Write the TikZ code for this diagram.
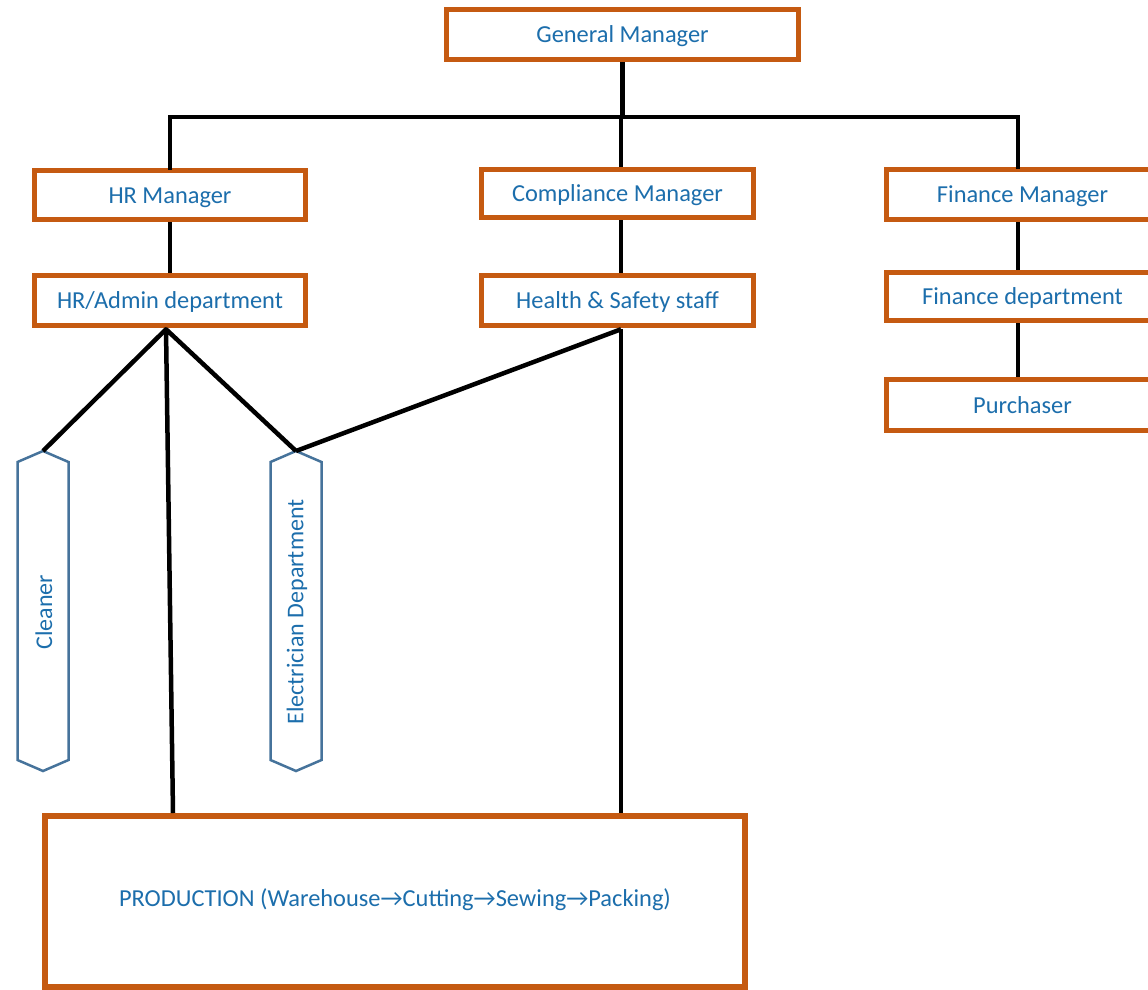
\documentclass[tikz,border=0pt]{standalone}
\usepackage{fontspec}
\setmainfont{Carlito}
\definecolor{boxorange}{RGB}{197,90,17}
\definecolor{txtblue}{RGB}{28,110,172}
\definecolor{hexblue}{RGB}{70,115,155}
\newcommand{\arr}{→}
\begin{document}
\begin{tikzpicture}[x=1pt,y=-1pt,
  obox/.style={draw=boxorange, line width=5.5pt, fill=white, rectangle, inner sep=0pt,
    text=txtblue, font=\fontsize{24.4}{28}\selectfont, text height=18pt, text depth=2pt},
  hexshape/.style={draw=hexblue, line width=2.5pt, line join=miter},
  hextext/.style={rotate=90, inner sep=0pt, text=txtblue, font=\fontsize{24}{28}\selectfont},
  conn/.style={draw=black, line width=4.5pt}]
\useasboundingbox (0,0) rectangle (1148,990);

\coordinate (bus) at (621,117);

% boxes
\node[obox, minimum width=352pt, minimum height=50pt] (gm) at (622.5,34.5) {General Manager};
\node[obox, minimum width=271pt, minimum height=49pt] (hrm) at (170,195) {HR Manager};
\node[obox, minimum width=272pt, minimum height=48pt] (cm) at (617.5,193.5) {Compliance Manager};
\node[obox, minimum width=272pt, minimum height=50pt] (fm) at (1022.5,194.5) {Finance Manager};
\node[obox, minimum width=271pt, minimum height=50pt] (hra) at (170,300.5) {HR/Admin department};
\node[obox, minimum width=272pt, minimum height=50pt] (hs) at (617.5,300.5) {Health \& Safety staff};
\node[obox, minimum width=272pt, minimum height=48pt] (fd) at (1022.5,296.5) {Finance department};
\node[obox, minimum width=272pt, minimum height=51pt] (pu) at (1022.5,405) {Purchaser};
\node[obox, line width=6pt, minimum width=700pt, minimum height=171pt] (prod) at (395,901.5)
  {\raisebox{3.5pt}{PRODUCTION (Warehouse\arr Cutting\arr Sewing\arr Packing)}};

% hexagons
\node[hextext] (cl) at (44,612) {Cleaner};
\draw[hexshape] (43,451) coordinate (cltop) -- ++(25.5,11) -- ++(0,298) -- ++(-25.5,11)
  -- ++(-25.5,-11) -- ++(0,-298) -- cycle;
\node[hextext] (el) at (297,612) {Electrician Department};
\draw[hexshape] (296,451) coordinate (eltop) -- ++(25.5,11) -- ++(0,298) -- ++(-25.5,11)
  -- ++(-25.5,-11) -- ++(0,-298) -- cycle;

% connectors
\coordinate (fmx) at ([xshift=-4.5pt]fm.north);
\draw[conn] (gm.south) -- (gm.south |- bus);
\draw[conn, line cap=rect] (hrm.north) -- (hrm.north |- bus) -- (fmx |- bus) -- (fmx);
\draw[conn] (bus) -- (bus |- cm.north);
\draw[conn] (hrm.south) -- (hra.north);
\draw[conn] (bus |- cm.south) -- (bus |- hs.north);
\draw[conn] ([xshift=-4.5pt]fm.south) -- ([xshift=-4.5pt]fd.north);
\draw[conn] ([xshift=-4.5pt]fd.south) -- ([xshift=-4.5pt]pu.north);

\coordinate (hrj) at ([xshift=-4pt,yshift=-1pt]hra.south);
\coordinate (hsj) at ([xshift=3.5pt,yshift=-1pt]hs.south);
\draw[conn, line join=round] (hrj) -- (cltop);
\draw[conn, line join=round] (eltop) -- (hrj) -- ([xshift=-222pt]prod.north);
\draw[conn, line join=round] (hsj) -- (eltop);
\draw[conn] (hsj) -- (prod.north -| hsj);
\end{tikzpicture}
\end{document}
